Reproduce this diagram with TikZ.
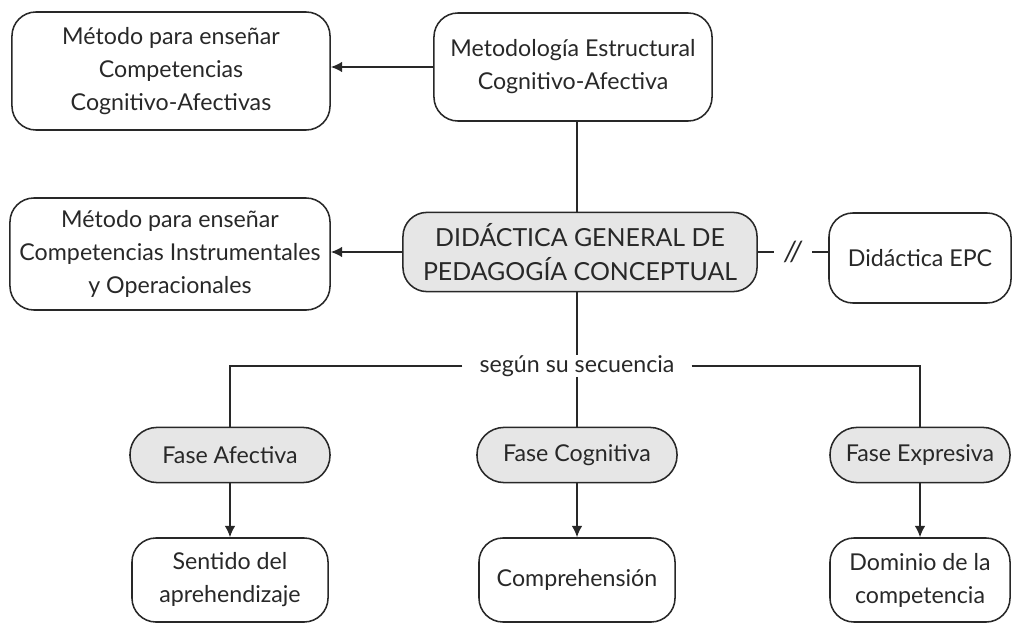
\documentclass[tikz,border=0pt]{standalone}
\usepackage{fontspec}
\setmainfont{Lato}
\usetikzlibrary{arrows.meta}
\definecolor{boxgray}{RGB}{230,230,230}
\definecolor{inkgray}{RGB}{40,40,40}
\begin{document}
\begin{tikzpicture}[x=0.025cm,y=-0.025cm,
  every node/.style={text=inkgray,font=\fontsize{16.5}{23.5}\selectfont,inner sep=0pt},
  box/.style={draw=inkgray,line width=1.1pt,rounded corners=0.6cm,align=center},
  phase/.style={draw=inkgray,line width=1.1pt,rounded corners=0.68cm,fill=boxgray,
    minimum height=1.38cm,align=center},
  link/.style={draw=inkgray,line width=1.1pt},
  arr/.style={link,-{Latex[length=8pt,width=7.5pt]}}]
\useasboundingbox (0,0) rectangle (1016,624);
% top row
\node[box,minimum width=7.95cm,minimum height=2.95cm] (mcca) at (171,71)
  {Método para enseñar\\Competencias\\Cognitivo-Afectivas};
\node[box,minimum width=6.95cm,minimum height=2.7cm] (mec) at (573,67)
  {Metodología Estructural\\Cognitivo-Afectiva};
% middle row
\node[box,fill=boxgray,minimum width=8.85cm,minimum height=1.98cm,
  font=\fontsize{17.7}{24}\selectfont] (dgpc) at (580,252)
  {DIDÁCTICA GENERAL DE\\PEDAGOGÍA CONCEPTUAL};
\node[box,minimum width=8cm,minimum height=2.8cm] (mcio) at (170,254)
  {Método para enseñar\\Competencias Instrumentales\\y Operacionales};
\node[box,minimum width=4.55cm,minimum height=2.25cm] (epc) at (920,258)
  {Didáctica EPC};
\node (seq) at (577,366) [inner xsep=12pt] {según su secuencia};
% phases
\node[phase,minimum width=5cm] (fa) at (230,455) {Fase Afectiva};
\node[phase,minimum width=5cm] (fc) at (577,455) {Fase Cognitiva};
\node[phase,minimum width=4.5cm] (fe) at (920,455) {Fase Expresiva};
% outcomes
\node[box,minimum width=4.9cm,minimum height=2.1cm] (sda) at (230,580)
  {Sentido del\\aprehendizaje};
\node[box,minimum width=4.9cm,minimum height=2.1cm] (comp) at (577,580)
  {Comprehensión};
\node[box,minimum width=4.5cm,minimum height=2.1cm] (dlc) at (920,580)
  {Dominio de la\\competencia};
% connectors
\draw[arr] (mec.west) -- (mec.west -| mcca.east);
\draw[link] (mec.south -| seq) -- (seq |- dgpc.north);
\draw[arr] (dgpc.west) -- (dgpc.west -| mcio.east);
\draw[link] (dgpc.east) -- node[fill=white,inner xsep=7pt,font=\fontsize{20}{20}\itshape]{//} (dgpc.east -| epc.west);
\draw[link] (dgpc.south -| seq) -- (seq.north);
\draw[link] (seq.south) -- (fc.north);
\draw[link] (seq.west) -| (fa.north);
\draw[link] (seq.east) -| (fe.north);
\draw[arr] (fa) -- (sda);
\draw[arr] (fc) -- (comp);
\draw[arr] (fe) -- (dlc);
\end{tikzpicture}
\end{document}
